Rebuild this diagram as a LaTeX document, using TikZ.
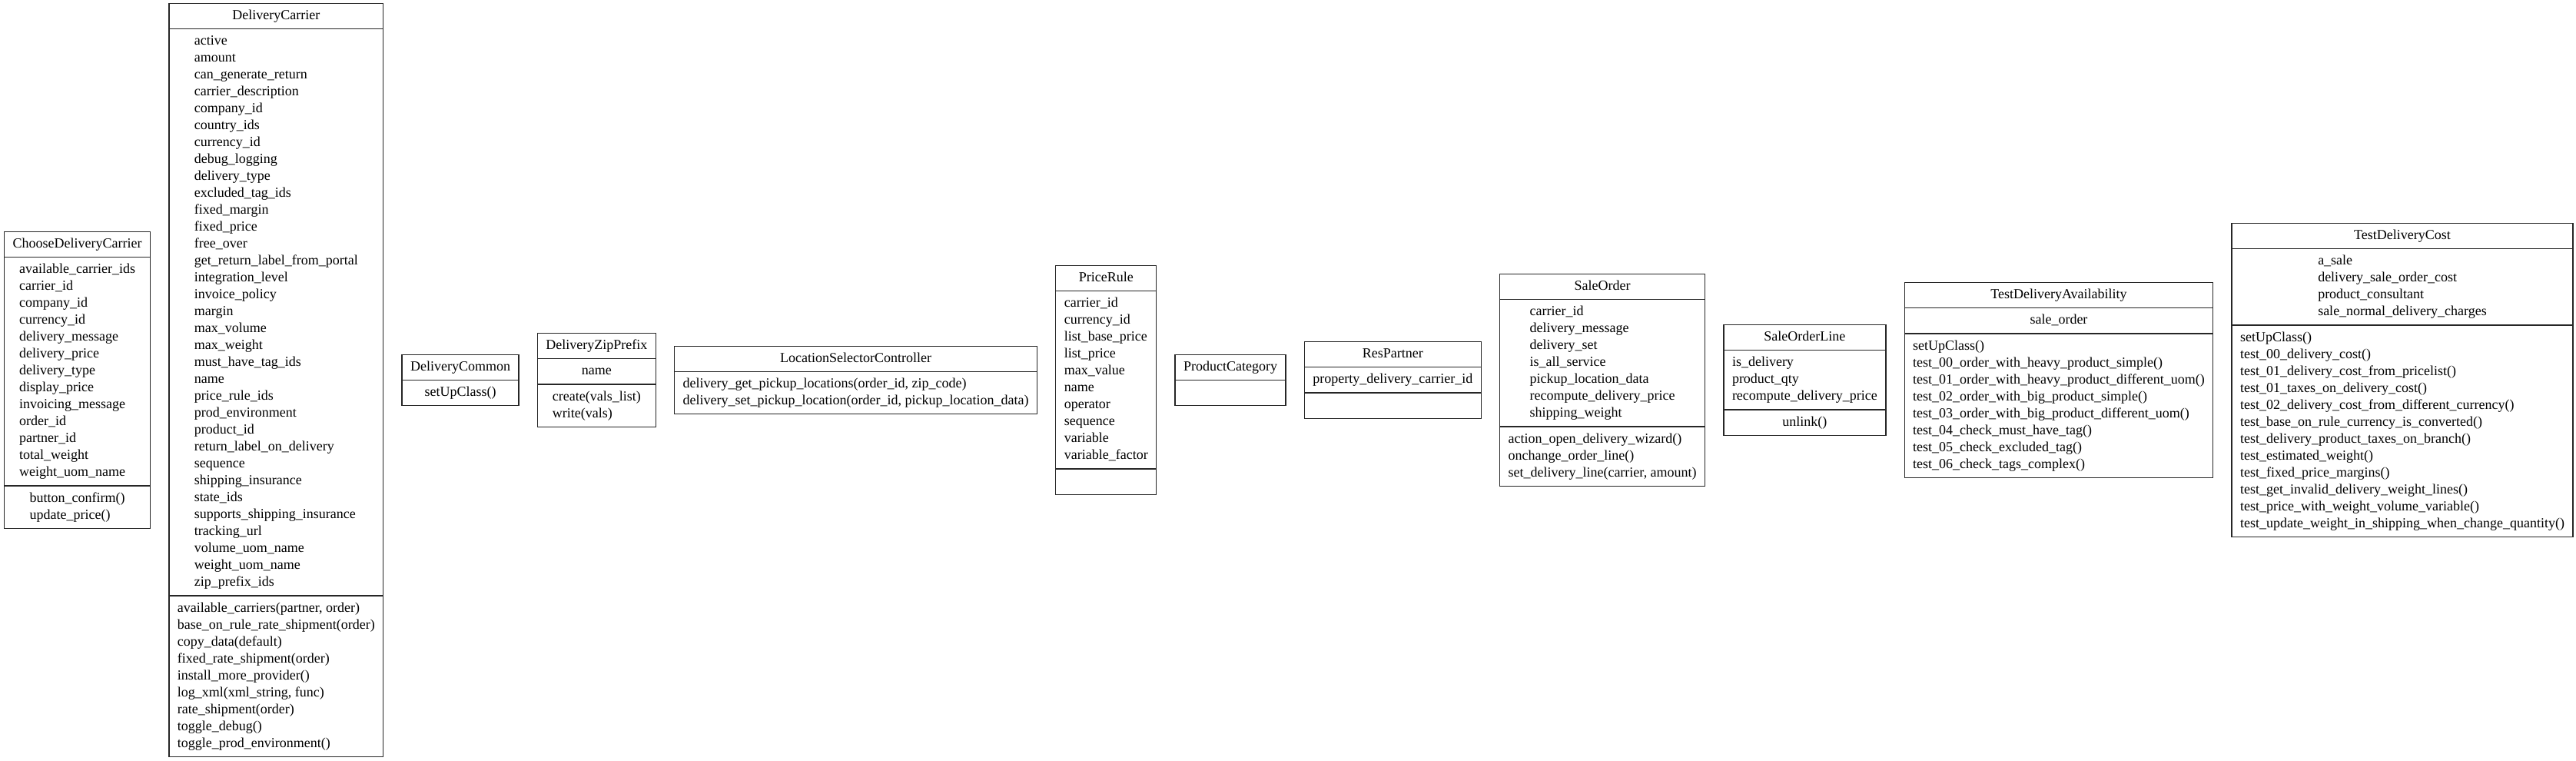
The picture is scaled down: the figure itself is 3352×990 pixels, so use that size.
\documentclass[tikz,border=0pt]{standalone}
\usepackage{fontspec}
\setmainfont{Liberation Serif}
\usetikzlibrary{shapes.multipart,positioning}
\newcommand{\rowsof}[1]{\begin{tabular}{@{}l@{}}#1\end{tabular}}
\tikzset{
  cls/.style={draw=black!85, line width=1.3pt, rectangle split, rectangle split draw splits=true,
    inner xsep=11pt, inner ysep=5pt, fill=white,
    font=\fontsize{18}{22}\selectfont, align=center},
  two/.style={cls, rectangle split parts=2},
  three/.style={cls, rectangle split parts=3},
}
\begin{document}
\begin{tikzpicture}[x=1pt,y=1pt,node distance=23pt]
\fill[white] (0,0) rectangle (3352,990);
\useasboundingbox (0,0) rectangle (3352,990);

\node[three, anchor=west] (cdc) at (5,495.5) {\strut ChooseDeliveryCarrier
\nodepart{two}\rowsof{available\_carrier\_ids\\carrier\_id\\company\_id\\currency\_id\\delivery\_message\\delivery\_price\\delivery\_type\\display\_price\\invoicing\_message\\order\_id\\partner\_id\\total\_weight\\weight\_uom\_name}
\nodepart{three}\rowsof{button\_confirm()\\update\_price()}};

\node[three, right=of cdc] (dc) {\strut DeliveryCarrier
\nodepart{two}\rowsof{active\\amount\\can\_generate\_return\\carrier\_description\\company\_id\\country\_ids\\currency\_id\\debug\_logging\\delivery\_type\\excluded\_tag\_ids\\fixed\_margin\\fixed\_price\\free\_over\\get\_return\_label\_from\_portal\\integration\_level\\invoice\_policy\\margin\\max\_volume\\max\_weight\\must\_have\_tag\_ids\\name\\price\_rule\_ids\\prod\_environment\\product\_id\\return\_label\_on\_delivery\\sequence\\shipping\_insurance\\state\_ids\\supports\_shipping\_insurance\\tracking\_url\\volume\_uom\_name\\weight\_uom\_name\\zip\_prefix\_ids}
\nodepart{three}\rowsof{available\_carriers(partner, order)\\base\_on\_rule\_rate\_shipment(order)\\copy\_data(default)\\fixed\_rate\_shipment(order)\\install\_more\_provider()\\log\_xml(xml\_string, func)\\rate\_shipment(order)\\toggle\_debug()\\toggle\_prod\_environment()}};

\node[two, right=of dc] (dcom) {\strut DeliveryCommon
\nodepart{two}\rowsof{setUpClass()}};

\node[three, right=of dcom] (dzp) {\strut DeliveryZipPrefix
\nodepart{two}\rowsof{name}
\nodepart{three}\rowsof{create(vals\_list)\\write(vals)}};

\node[two, right=of dzp] (lsc) {\strut LocationSelectorController
\nodepart{two}\rowsof{delivery\_get\_pickup\_locations(order\_id, zip\_code)\\delivery\_set\_pickup\_location(order\_id, pickup\_location\_data)}};

\node[three, right=of lsc] (pr) {\strut PriceRule
\nodepart{two}\rowsof{carrier\_id\\currency\_id\\list\_base\_price\\list\_price\\max\_value\\name\\operator\\sequence\\variable\\variable\_factor}
\nodepart{three}\strut};

\node[two, right=of pr] (pc) {\strut ProductCategory
\nodepart{two}\strut};

\node[three, right=of pc] (rp) {\strut ResPartner
\nodepart{two}\rowsof{property\_delivery\_carrier\_id}
\nodepart{three}\strut};

\node[three, right=of rp] (so) {\strut SaleOrder
\nodepart{two}\rowsof{carrier\_id\\delivery\_message\\delivery\_set\\is\_all\_service\\pickup\_location\_data\\recompute\_delivery\_price\\shipping\_weight}
\nodepart{three}\rowsof{action\_open\_delivery\_wizard()\\onchange\_order\_line()\\set\_delivery\_line(carrier, amount)}};

\node[three, right=of so] (sol) {\strut SaleOrderLine
\nodepart{two}\rowsof{is\_delivery\\product\_qty\\recompute\_delivery\_price}
\nodepart{three}\rowsof{unlink()}};

\node[three, right=of sol] (tda) {\strut TestDeliveryAvailability
\nodepart{two}\rowsof{sale\_order}
\nodepart{three}\rowsof{setUpClass()\\test\_00\_order\_with\_heavy\_product\_simple()\\test\_01\_order\_with\_heavy\_product\_different\_uom()\\test\_02\_order\_with\_big\_product\_simple()\\test\_03\_order\_with\_big\_product\_different\_uom()\\test\_04\_check\_must\_have\_tag()\\test\_05\_check\_excluded\_tag()\\test\_06\_check\_tags\_complex()}};

\node[three, right=of tda] (tdc) {\strut TestDeliveryCost
\nodepart{two}\rowsof{a\_sale\\delivery\_sale\_order\_cost\\product\_consultant\\sale\_normal\_delivery\_charges}
\nodepart{three}\rowsof{setUpClass()\\test\_00\_delivery\_cost()\\test\_01\_delivery\_cost\_from\_pricelist()\\test\_01\_taxes\_on\_delivery\_cost()\\test\_02\_delivery\_cost\_from\_different\_currency()\\test\_base\_on\_rule\_currency\_is\_converted()\\test\_delivery\_product\_taxes\_on\_branch()\\test\_estimated\_weight()\\test\_fixed\_price\_margins()\\test\_get\_invalid\_delivery\_weight\_lines()\\test\_price\_with\_weight\_volume\_variable()\\test\_update\_weight\_in\_shipping\_when\_change\_quantity()}};
\end{tikzpicture}
\end{document}
